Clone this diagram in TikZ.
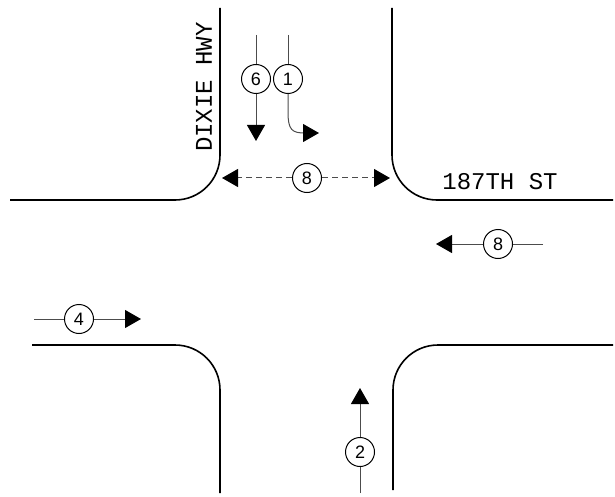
\documentclass[tikz,border=0pt]{standalone}
\usepackage{fontspec}
\setmainfont{Liberation Sans}
\newfontfamily\cadfont{Liberation Mono}
\usetikzlibrary{arrows.meta}

\begin{document}
\begin{tikzpicture}
[x=1pt,y=-1pt,%
  curbDecorate/.style={line width=1.6pt,rounded corners=45pt},%
  legDecorate/.style={-,line width=1pt,black!70},%
  moveDecorate/.style={line width=1pt,black!70,-{Triangle[length=16pt,width=18pt,color=black]}},%
  phaseDecorate/.style={shape=circle,minimum size=29pt,inner sep=0pt,draw,line width=1pt,font=\fontsize{18}{18}\selectfont},%
  streetDecorate/.style={font=\cadfont\fontsize{24}{24}\selectfont}]
\useasboundingbox (0,0) rectangle (615,497);
%% curbs
\draw[curbDecorate] (10,200) -- (220,200) -- (220,8);
\draw[curbDecorate] (613,200) -- (392,200) -- (392,8);
\draw[curbDecorate] (32,345) -- (220,345) -- (220,493);
\draw[curbDecorate] (613,345) -- (393,345) -- (393,490);
%% street names
\node (dixie) at (204,87) [streetDecorate,rotate=90] {DIXIE HWY};
\node (st187) at (500,182) [streetDecorate] {187TH ST};
%% phases or movements
\node (six) at (256,79) [phaseDecorate] {6};
\coordinate (sixTop) at (256,35);
\coordinate (sixEnd) at (256,141);
\node (one) at (288,79) [phaseDecorate] {1};
\coordinate (oneTop) at (288,35);
\coordinate (oneEnd) at (319,133);
\node (eightP) at (307,178) [phaseDecorate] {8};
\coordinate (eightPL) at (222,178);
\coordinate (eightPR) at (390,178);
\node (eightV) at (498,244) [phaseDecorate] {8};
\coordinate (eightVS) at (543,244);
\coordinate (eightVE) at (436,244);
\node (four) at (79,319) [phaseDecorate] {4};
\coordinate (fourS) at (34,319);
\coordinate (fourE) at (141,319);
\node (two) at (360,452) [phaseDecorate] {2};
\coordinate (twoS) at (360,493);
\coordinate (twoE) at (360,388);
%% connectors
\path (sixTop) edge[legDecorate] (six);
\path (six) edge[moveDecorate] (sixEnd);
\path (oneTop) edge[legDecorate] (one);
\draw[moveDecorate] (one) -- (288,112) .. controls (288,130) and (292,133) .. (305,133) -- (oneEnd);
\path (eightP) edge[moveDecorate,dash pattern=on 6pt off 4pt] (eightPL);
\path (eightP) edge[moveDecorate,dash pattern=on 6pt off 4pt] (eightPR);
\path (eightVS) edge[legDecorate] (eightV);
\path (eightV) edge[moveDecorate] (eightVE);
\path (fourS) edge[legDecorate] (four);
\path (four) edge[moveDecorate] (fourE);
\path (twoS) edge[legDecorate] (two);
\path (two) edge[moveDecorate] (twoE);
\end{tikzpicture}
\end{document}
